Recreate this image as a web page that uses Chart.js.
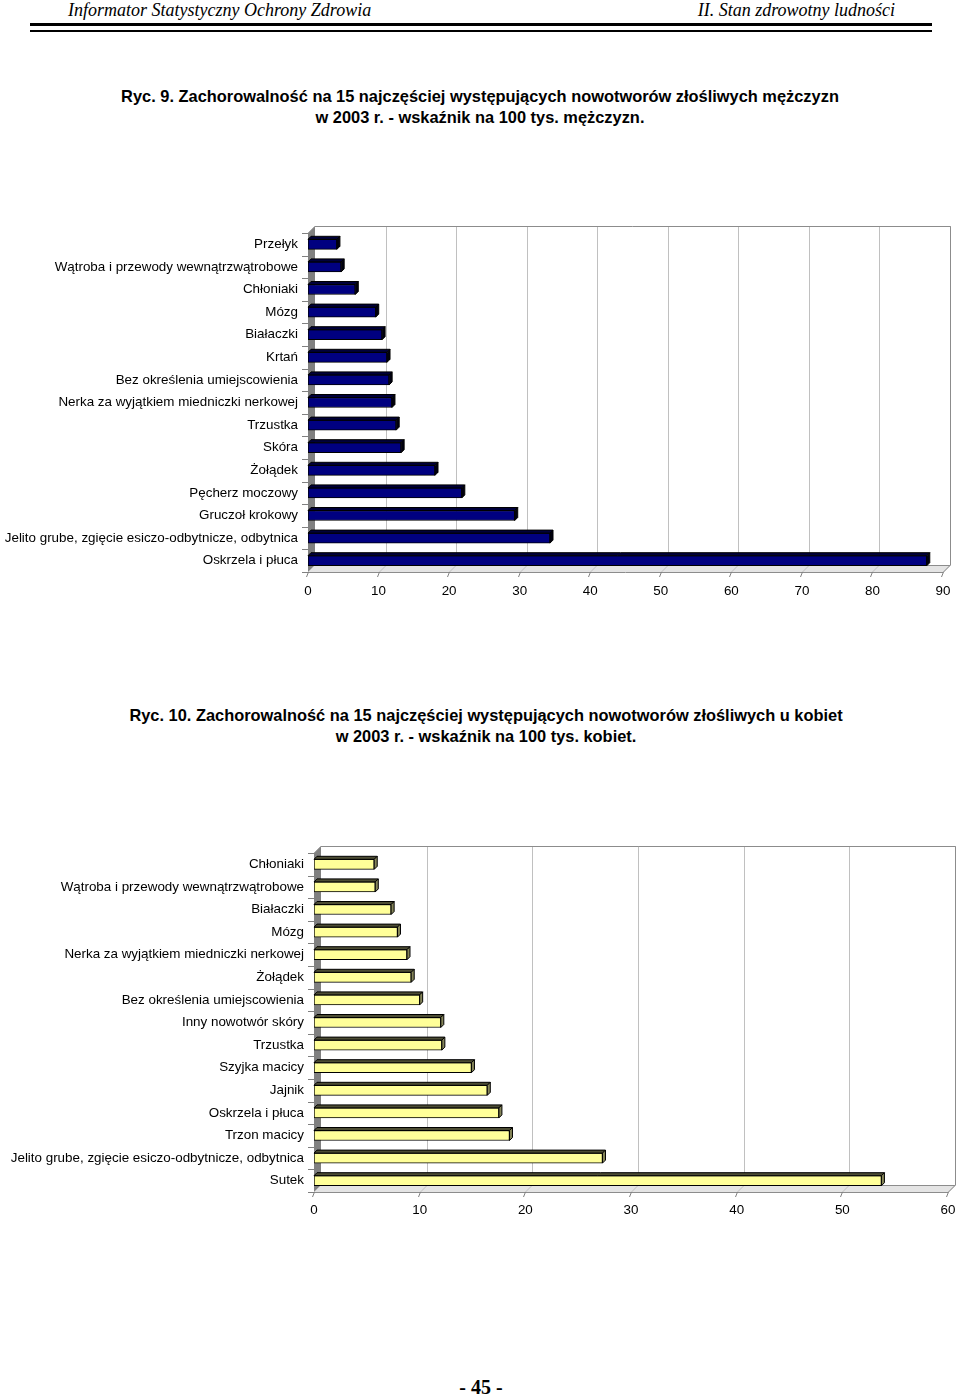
<!DOCTYPE html>
<html>
<head>
<meta charset="utf-8">
<script src="https://cdn.jsdelivr.net/npm/chart.js@4.4.0/dist/chart.umd.min.js"></script>
<style>
body { margin:0; background:#fff; width:960px; height:1396px; position:relative; overflow:hidden; font-family:"Liberation Sans", Arial, sans-serif; color:#000; }
.hdr { position:absolute; top:0; font-family:"Liberation Serif","Times New Roman",serif; font-style:italic; font-size:18px; line-height:20px; white-space:nowrap; }
.rule { position:absolute; left:30px; width:902px; background:#000; }
.title { position:absolute; width:960px; text-align:center; font-weight:bold; font-size:16.4px; line-height:21px; }
.box { position:absolute; left:0; width:960px; height:410px; }
.foot { position:absolute; top:1376px; left:0; width:962px; text-align:center; font-family:"Liberation Serif","Times New Roman",serif; font-weight:bold; font-size:20px; line-height:22px; }
</style>
</head>
<body>
<div class="hdr" style="left:68px">Informator Statystyczny Ochrony Zdrowia</div>
<div class="hdr" style="right:65px">II. Stan zdrowotny ludności</div>
<div class="rule" style="top:23px;height:3px"></div>
<div class="rule" style="top:30px;height:2px"></div>

<div class="title" style="left:0;top:86px">Ryc. 9. Zachorowalność na 15 najczęściej występujących nowotworów złośliwych mężczyzn<br>w 2003 r. - wskaźnik na 100 tys. mężczyzn.</div>
<div class="box" style="top:200px"><canvas id="menChart" width="960" height="410"></canvas></div>

<div class="title" style="left:6px;top:705px">Ryc. 10. Zachorowalność na 15 najczęściej występujących nowotworów złośliwych u kobiet<br>w 2003 r. - wskaźnik na 100 tys. kobiet.</div>
<div class="box" style="top:820px"><canvas id="womenChart" width="960" height="410"></canvas></div>

<div class="foot">- 45 -</div>

<script>
// dane - mężczyźni
var menLabels = ["Przełyk", "Wątroba i przewody wewnątrzwątrobowe", "Chłoniaki", "Mózg", "Białaczki", "Krtań",
  "Bez określenia umiejscowienia", "Nerka za wyjątkiem miedniczki nerkowej", "Trzustka", "Skóra", "Żołądek",
  "Pęcherz moczowy", "Gruczoł krokowy", "Jelito grube, zgięcie esiczo-odbytnicze, odbytnica", "Oskrzela i płuca"];
var menValues = [4.1, 4.7, 6.7, 9.6, 10.5, 11.2, 11.5, 11.9, 12.5, 13.2, 18.0, 21.8, 29.3, 34.3, 87.7];
var menTicks = [0, 10, 20, 30, 40, 50, 60, 70, 80, 90];

// dane - kobiety
var womenLabels = ["Chłoniaki", "Wątroba i przewody wewnątrzwątrobowe", "Białaczki", "Mózg",
  "Nerka za wyjątkiem miedniczki nerkowej", "Żołądek", "Bez określenia umiejscowienia", "Inny nowotwór skóry",
  "Trzustka", "Szyjka macicy", "Jajnik", "Oskrzela i płuca", "Trzon macicy",
  "Jelito grube, zgięcie esiczo-odbytnicze, odbytnica", "Sutek"];
var womenValues = [5.7, 5.8, 7.3, 7.9, 8.8, 9.2, 10.0, 12.0, 12.1, 14.9, 16.4, 17.5, 18.5, 27.3, 53.7];
var womenTicks = [0, 10, 20, 30, 40, 50, 60];

function poly(ctx, pts) {
  ctx.beginPath();
  ctx.moveTo(pts[0][0], pts[0][1]);
  for (var i = 1; i < pts.length; i++) ctx.lineTo(pts[i][0], pts[i][1]);
  ctx.closePath();
}

// ramka 3D (sciany, podloga, siatka) + boki slupkow
var frame3d = {
  id: 'frame3d',
  beforeDatasetsDraw: function(chart, args, o) {
    var ctx = chart.ctx, a = chart.chartArea, x = chart.scales.x, d = o.depth;
    var L = a.left, R = a.right, T = a.top, B = a.bottom;
    ctx.save();
    ctx.lineWidth = 1;
    // podloga
    ctx.fillStyle = '#e4e4e4';
    poly(ctx, [[L, B], [R, B], [R + d, B - d], [L + d, B - d]]);
    ctx.fill();
    // siatka na tylnej scianie
    ctx.strokeStyle = '#c0c0c0';
    x.ticks.forEach(function(t) {
      if (t.value === x.min) return;
      var px = Math.round(x.getPixelForValue(t.value)) + 0.5;
      ctx.beginPath();
      ctx.moveTo(px + d, T - d);
      ctx.lineTo(px + d, B - d);
      ctx.lineTo(px, B);
      ctx.stroke();
    });
    // lewa sciana
    ctx.fillStyle = '#808080';
    poly(ctx, [[L, B], [L, T], [L + d, T - d], [L + d, B - d]]);
    ctx.fill();
    // obrys
    ctx.strokeStyle = '#8c8c8c';
    ctx.beginPath();
    ctx.moveTo(L, T + 0.5); ctx.lineTo(L + d, T - d + 0.5);
    ctx.lineTo(R + d + 0.5, T - d + 0.5); ctx.lineTo(R + d + 0.5, B - d);
    ctx.lineTo(R, B + 0.5); ctx.lineTo(L, B + 0.5);
    ctx.moveTo(L + d, B - d + 0.5); ctx.lineTo(R + d, B - d + 0.5);
    ctx.stroke();
    // znaczniki osi
    ctx.strokeStyle = '#808080';
    var n = chart.data.labels.length;
    for (var i = 0; i <= n; i++) {
      var py = Math.round(T + i * (B - T) / n) + 0.5;
      ctx.beginPath(); ctx.moveTo(L - 6, py); ctx.lineTo(L, py); ctx.stroke();
    }
    x.ticks.forEach(function(t) {
      var px = Math.round(x.getPixelForValue(t.value)) + 0.5;
      ctx.beginPath(); ctx.moveTo(px, B); ctx.lineTo(px - 2, B + 5); ctx.stroke();
    });
    ctx.restore();
  },
  afterDatasetsDraw: function(chart, args, o) {
    var ctx = chart.ctx, c = o.cap;
    ctx.save();
    ctx.lineWidth = 1;
    ctx.strokeStyle = '#000';
    chart.getDatasetMeta(0).data.forEach(function(bar) {
      var p = bar.getProps(['x', 'y', 'base', 'height'], true);
      var top = p.y - p.height / 2, bot = p.y + p.height / 2;
      ctx.fillStyle = o.topColor;
      poly(ctx, [[p.base, top], [p.x, top], [p.x + c, top - c], [p.base + c, top - c]]);
      ctx.fill(); ctx.stroke();
      ctx.fillStyle = o.sideColor;
      poly(ctx, [[p.x, top], [p.x, bot], [p.x + c, bot - c], [p.x + c, top - c]]);
      ctx.fill(); ctx.stroke();
    });
    ctx.restore();
  }
};

function makeChart(id, labels, values, ticks, colors, axisWidth, padRight, tickPad) {
  return new Chart(document.getElementById(id), {
    type: 'bar',
    data: {
      labels: labels,
      datasets: [{
        data: values,
        backgroundColor: colors[0],
        borderColor: '#000',
        borderWidth: 1,
        borderSkipped: false,
        barThickness: 10
      }]
    },
    options: {
      indexAxis: 'y',
      responsive: false,
      animation: false,
      layout: { padding: { top: 33, right: padRight, left: 0, bottom: 0 } },
      plugins: {
        legend: { display: false },
        tooltip: { enabled: false },
        frame3d: { depth: 7, cap: 3, topColor: colors[1], sideColor: colors[2] }
      },
      scales: {
        x: {
          min: ticks[0], max: ticks[ticks.length - 1],
          ticks: { stepSize: ticks[1] - ticks[0], color: '#000', font: { family: 'Liberation Sans', size: 13.4 }, padding: tickPad },
          grid: { display: false, drawTicks: false },
          border: { display: false },
          afterFit: function(s) { s.height = 38; s.paddingLeft = 0; s.paddingRight = 0; }
        },
        y: {
          ticks: { color: '#000', font: { family: 'Liberation Sans', size: 13.4 }, padding: 10, autoSkip: false },
          grid: { display: false, drawTicks: false },
          border: { display: false },
          afterFit: function(s) { s.width = axisWidth; s.paddingTop = 0; s.paddingBottom = 0; }
        }
      }
    },
    plugins: [frame3d]
  });
}

makeChart('menChart', menLabels, menValues, menTicks, ['#000080', '#00003a', '#000010'], 308, 17, 11);
makeChart('womenChart', womenLabels, womenValues, womenTicks, ['#ffff99', '#4c4c33', '#858559'], 314, 12, 10);
</script>
</body>
</html>
